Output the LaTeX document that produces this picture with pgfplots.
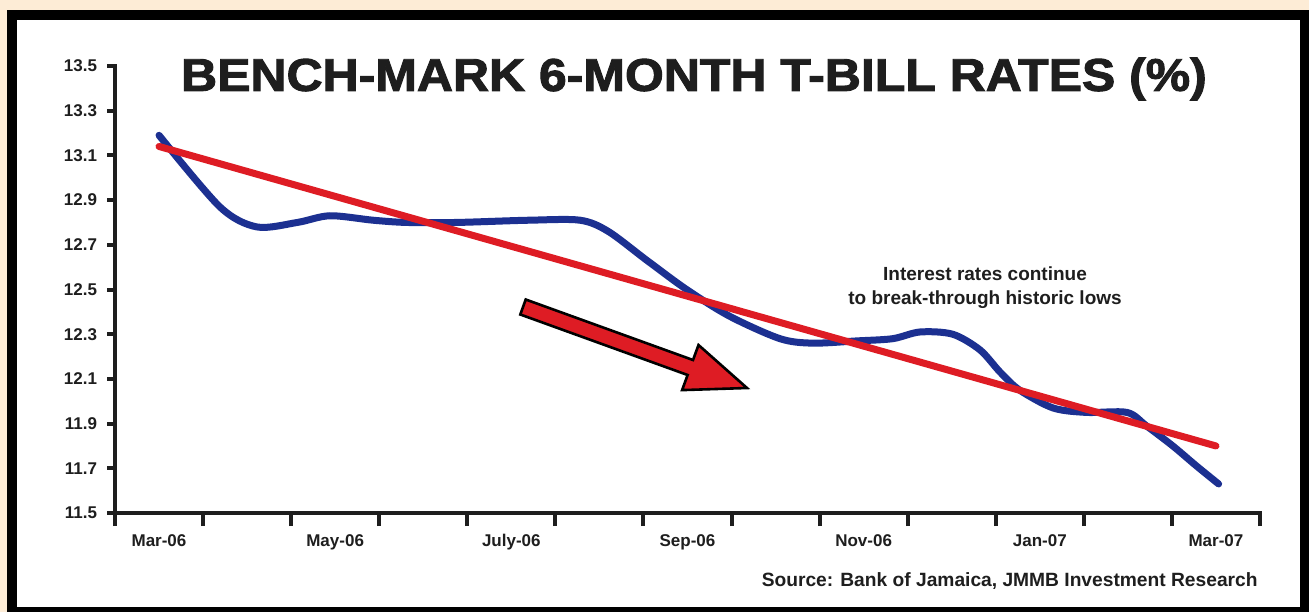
\documentclass[border=0pt]{standalone}
\usepackage{fontspec}
\setmainfont{Liberation Sans}
\newfontfamily\titlefont{Liberation Sans}[BoldFeatures={FakeBold=2}]
\usepackage{graphicx}
\usepackage{pgfplots}
\pgfplotsset{compat=1.18}
\definecolor{cream}{RGB}{253,236,214}
\definecolor{navy}{RGB}{28,48,145}
\definecolor{trendred}{RGB}{222,28,36}
\definecolor{txt}{RGB}{30,30,30}
\begin{document}
\begin{tikzpicture}
\begin{scope}[x=0.5pt,y=-0.5pt,yshift=306pt]
\fill[cream] (0,0) rectangle (1309,612);
\fill[black] (7,10) rectangle (1309,612);
\fill[white] (17,20) rectangle (1300,607);
\end{scope}
\begin{axis}[
  at={(57.5pt,49.5pt)}, anchor=south west,
  scale only axis, width=572.5pt, height=223.5pt,
  xmin=-0.5, xmax=12.5, ymin=11.5, ymax=13.5,
  axis x line*=bottom, axis y line*=left,
  axis line style={line width=2.4pt, -, txt, line cap=rect},
  tick align=outside,
  major tick length=6.5pt,
  tick style={line width=2pt, txt},
  xtick={-0.5,0.5,1.5,2.5,3.5,4.5,5.5,6.5,7.5,8.5,9.5,10.5,11.5,12.5},
  xticklabels={Mar-06,{},May-06,{},July-06,{},Sep-06,{},Nov-06,{},Jan-07,{},Mar-07,{}},
  xticklabel style={xshift=22pt, yshift=-4pt, inner sep=0pt, anchor=north},
  ytick=\empty,
  extra y ticks={11.5,11.7,11.9,12.1,12.3,12.5,12.7,12.9,13.1,13.3,13.5},
  extra y tick labels={11.5,11.7,11.9,12.1,12.3,12.5,12.7,12.9,13.1,13.3,13.5},
  extra y tick style={major tick length=3.8pt},
  yticklabel style={anchor=east, inner sep=0pt, xshift=-5pt},
  ticklabel style={font=\fontsize{8.5}{10}\selectfont\bfseries, text=txt},
  /pgf/number format/assume math mode=true,
  clip=false,
]
\addplot[navy, line width=3.5pt, smooth, tension=0.5, line cap=round, line join=round] coordinates {
(0,13.19) (0.69,12.87) (1.11,12.78) (1.57,12.80) (1.94,12.83) (2.43,12.81) (2.81,12.80) (3.38,12.80) (4.2,12.81) (4.78,12.81) (5.10,12.76) (5.54,12.63) (5.99,12.50) (6.48,12.38) (7.05,12.28) (7.42,12.26) (7.92,12.27) (8.33,12.28) (8.64,12.31) (9.01,12.30) (9.32,12.23) (9.55,12.13) (9.77,12.05) (10.15,11.97) (10.53,11.95) (10.99,11.95) (11.21,11.89) (11.51,11.80) (11.78,11.71) (12.03,11.63)
};
\addplot[trendred, line width=3.5pt, line cap=round] coordinates {(0,13.14) (12.0,11.80)};
\end{axis}
\begin{scope}[x=0.5pt,y=-0.5pt,yshift=306pt]
\fill[trendred, draw=black, line width=1.3pt, line join=miter]
  (520.3,314.5) -- (525.7,299.5) -- (693.0,360.0) -- (698.5,345.0) -- (747,388) -- (682.1,390.1) -- (687.6,375.0) -- cycle;
\node[text=txt, align=center, font=\fontsize{9.5}{12}\selectfont\bfseries] at (985,288) {Interest rates continue\\to break-through historic lows};
\node[text=txt, anchor=east, inner sep=0pt, font=\fontsize{9.6}{11}\selectfont\bfseries] at (1258,581) {Source: Bank of Jamaica, JMMB Investment Research};
\node[text=txt, inner sep=0pt] at (694,79) {\scalebox{1.12}[1.03]{\fontsize{22.3}{26}\titlefont\bfseries BENCH-MARK 6-MONTH T-BILL RATES (\%)}};
\end{scope}
\end{tikzpicture}
\end{document}
